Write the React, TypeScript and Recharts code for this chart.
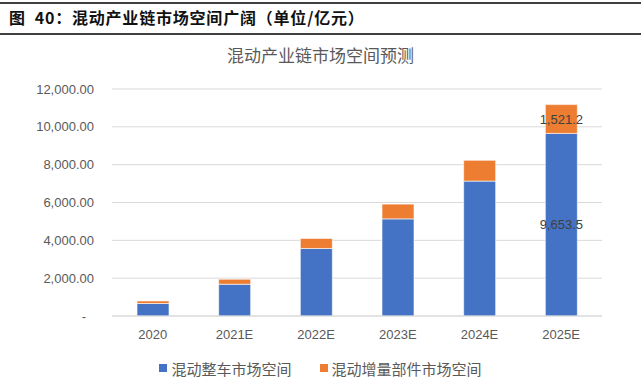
import { Bar, BarChart, CartesianGrid, LabelList, Legend, XAxis, YAxis } from 'recharts'

const years = ['2020', '2021E', '2022E', '2023E', '2024E', '2025E']
const vehicleMarket = [660, 1680, 3570, 5135, 7130, 9653.5]
const partsMarket = [135, 265, 530, 780, 1100, 1521.2]
const yTicks = [0, 2000, 4000, 6000, 8000, 10000, 12000]
const labelledYear = '2025E'

const seriesNames = {
  vehicle: '混动整车市场空间',
  parts: '混动增量部件市场空间',
}

const BLUE = '#4472C4'
const ORANGE = '#ED7D31'
const FONT = '"Liberation Sans", "Noto Sans CJK SC", sans-serif'

const chartData = years.map((year, i) => ({
  year,
  vehicle: vehicleMarket[i],
  parts: partsMarket[i],
}))

const fmt = (v: number, digits: number) =>
  v.toLocaleString('en-US', { minimumFractionDigits: digits, maximumFractionDigits: digits })

function YTick(props: any) {
  const { x, y, payload } = props
  const zero = payload.value === 0
  return (
    <text
      x={zero ? x - 8 : x}
      y={y}
      dy="0.35em"
      textAnchor="end"
      fill="#595959"
      fontSize={13}
      fontFamily={FONT}
    >
      {zero ? '-' : fmt(payload.value, 2)}
    </text>
  )
}

function SegmentLabel(props: any) {
  const { x, y, width, height, value, index } = props
  if (years[index] !== labelledYear) return null
  return (
    <text
      x={x + width / 2}
      y={y + height / 2}
      dy="0.35em"
      textAnchor="middle"
      fill="#404040"
      fontSize={13}
      fontFamily={FONT}
    >
      {fmt(value, 1)}
    </text>
  )
}

function LegendContent() {
  const items = [
    { name: seriesNames.vehicle, color: BLUE },
    { name: seriesNames.parts, color: ORANGE },
  ]
  return (
    <div
      style={{
        display: 'flex',
        justifyContent: 'center',
        height: 24,
        alignItems: 'center',
        gap: 28,
        paddingLeft: 39,
      }}
    >
      {items.map((item) => (
        <div key={item.name} style={{ display: 'flex', alignItems: 'center' }}>
          <span style={{ width: 8, height: 8, background: item.color, marginRight: 4 }} />
          <span style={{ fontSize: 15, color: '#595959', fontFamily: FONT }}>{item.name}</span>
        </div>
      ))}
    </div>
  )
}

export default function App() {
  return (
    <div style={{ position: 'absolute', left: 0, top: 0, width: 641, height: 385, background: '#fff' }}>
      <div
        style={{
          position: 'absolute',
          left: 0,
          top: 2,
          width: 641,
          height: 29,
          borderTop: '2px solid #404040',
          borderBottom: '2px solid #404040',
        }}
      />
      <div
        style={{
          position: 'absolute',
          left: 9,
          top: 5,
          fontSize: 16,
          fontWeight: 'bold',
          fontFamily: '"Noto Sans CJK SC", sans-serif',
          color: '#111',
          lineHeight: '24px',
          letterSpacing: 0.8,
          whiteSpace: 'pre',
        }}
      >
        图  40：混动产业链市场空间广阔（单位/亿元）
      </div>
      <div
        style={{
          position: 'absolute',
          left: 0,
          top: 45,
          width: 641,
          textAlign: 'center',
          fontSize: 17,
          color: '#595959',
          fontFamily: FONT,
          lineHeight: '24px',
        }}
      >
        混动产业链市场空间预测
      </div>
      <div style={{ position: 'absolute', left: 0, top: 0 }}>
        <BarChart
          width={641}
          height={385}
          data={chartData}
          margin={{ top: 89, right: 39, left: 0, bottom: 5 }}
          barSize={32}
        >
          <CartesianGrid vertical={false} stroke="#D9D9D9" strokeWidth={1} />
          <XAxis
            dataKey="year"
            height={40}
            axisLine={{ stroke: '#D9D9D9' }}
            tickLine={false}
            tickMargin={8}
            tick={{ fill: '#595959', fontSize: 13, fontFamily: FONT }}
          />
          <YAxis
            width={112}
            domain={[0, 12000]}
            ticks={yTicks}
            axisLine={false}
            tickLine={false}
            tickMargin={12}
            tick={<YTick />}
          />
          <Legend verticalAlign="bottom" content={<LegendContent />} />
          <Bar dataKey="vehicle" name={seriesNames.vehicle} stackId="a" fill={BLUE} stroke="#fff" strokeWidth={0.6} isAnimationActive={false}>
            <LabelList dataKey="vehicle" content={<SegmentLabel />} />
          </Bar>
          <Bar dataKey="parts" name={seriesNames.parts} stackId="a" fill={ORANGE} stroke="#fff" strokeWidth={0.6} isAnimationActive={false}>
            <LabelList dataKey="parts" content={<SegmentLabel />} />
          </Bar>
        </BarChart>
      </div>
    </div>
  )
}
